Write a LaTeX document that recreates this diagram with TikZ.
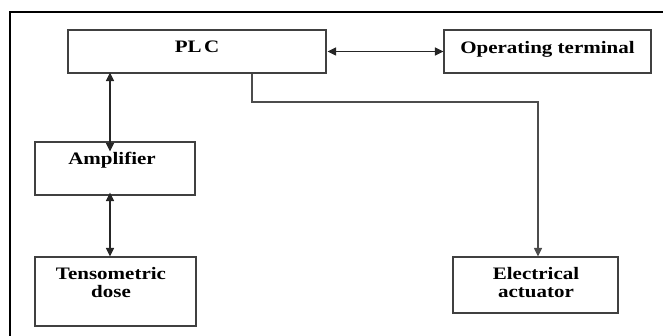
\documentclass[tikz,border=0pt]{standalone}
\usepackage{fontspec}
\setmainfont[FakeStretch=1.2]{Liberation Serif}
\usetikzlibrary{arrows.meta}
\begin{document}
\begin{tikzpicture}[x=1pt,y=-1pt,
  box/.style={draw=black!75, line width=1.1pt, inner sep=0pt},
  txt/.style={font=\fontsize{17.5}{18}\selectfont\bfseries, inner sep=0pt, align=center, anchor=base},
  arr/.style={line width=1.1pt, draw=black!85, {Triangle[length=8.5pt,width=8pt]}-{Triangle[length=8.5pt,width=8pt]}},
  onearr/.style={line width=1.1pt, draw=black!70, -{Triangle[length=8.5pt,width=8pt]}}]
\useasboundingbox (0,0) rectangle (663,336);
% frame
\draw[line width=1.6pt] (10,337) -- (10,12) -- (664,12);
% boxes
\node[box, minimum width=258pt, minimum height=43pt] (plc) at (197,51.5) {};
\node[box, minimum width=207pt, minimum height=43pt] (ot) at (547.5,51.5) {};
\node[box, minimum width=160pt, minimum height=53pt] (amp) at (115,168.5) {};
\node[box, minimum width=161pt, minimum height=69pt] (ten) at (115.5,291.5) {};
\node[box, minimum width=165pt, minimum height=56pt] (ea) at (535.5,285) {};
% texts
\node[txt] (tplc) at (197,53) {PL\kern2.5pt C};
\node[txt] (tot) at (547.5,53.5) {Operating terminal};
\node[txt] (tamp) at (112,164.5) {Amplifier};
\node[txt] (tten) at (111,298) {Tensometric\\dose};
\node[txt] (tea) at (536,298) {Electrical\\actuator};
% connectors
\coordinate (ax) at (110,0);
\coordinate (bx) at (252,0);
\coordinate (cx) at (538,0);
\coordinate (hy) at (0,102);
\draw[arr] ([xshift=1pt]plc.east) -- (ot.west);
\draw[arr] ([yshift=1pt]plc.south -| ax) -- ([yshift=-10pt]amp.north -| ax);
\draw[arr] ([yshift=3pt]amp.south -| ax) -- (ten.north -| ax);
\draw[onearr] (plc.south -| bx) -- (bx |- hy) -- (cx |- hy) -- (ea.north -| cx);
\end{tikzpicture}
\end{document}
